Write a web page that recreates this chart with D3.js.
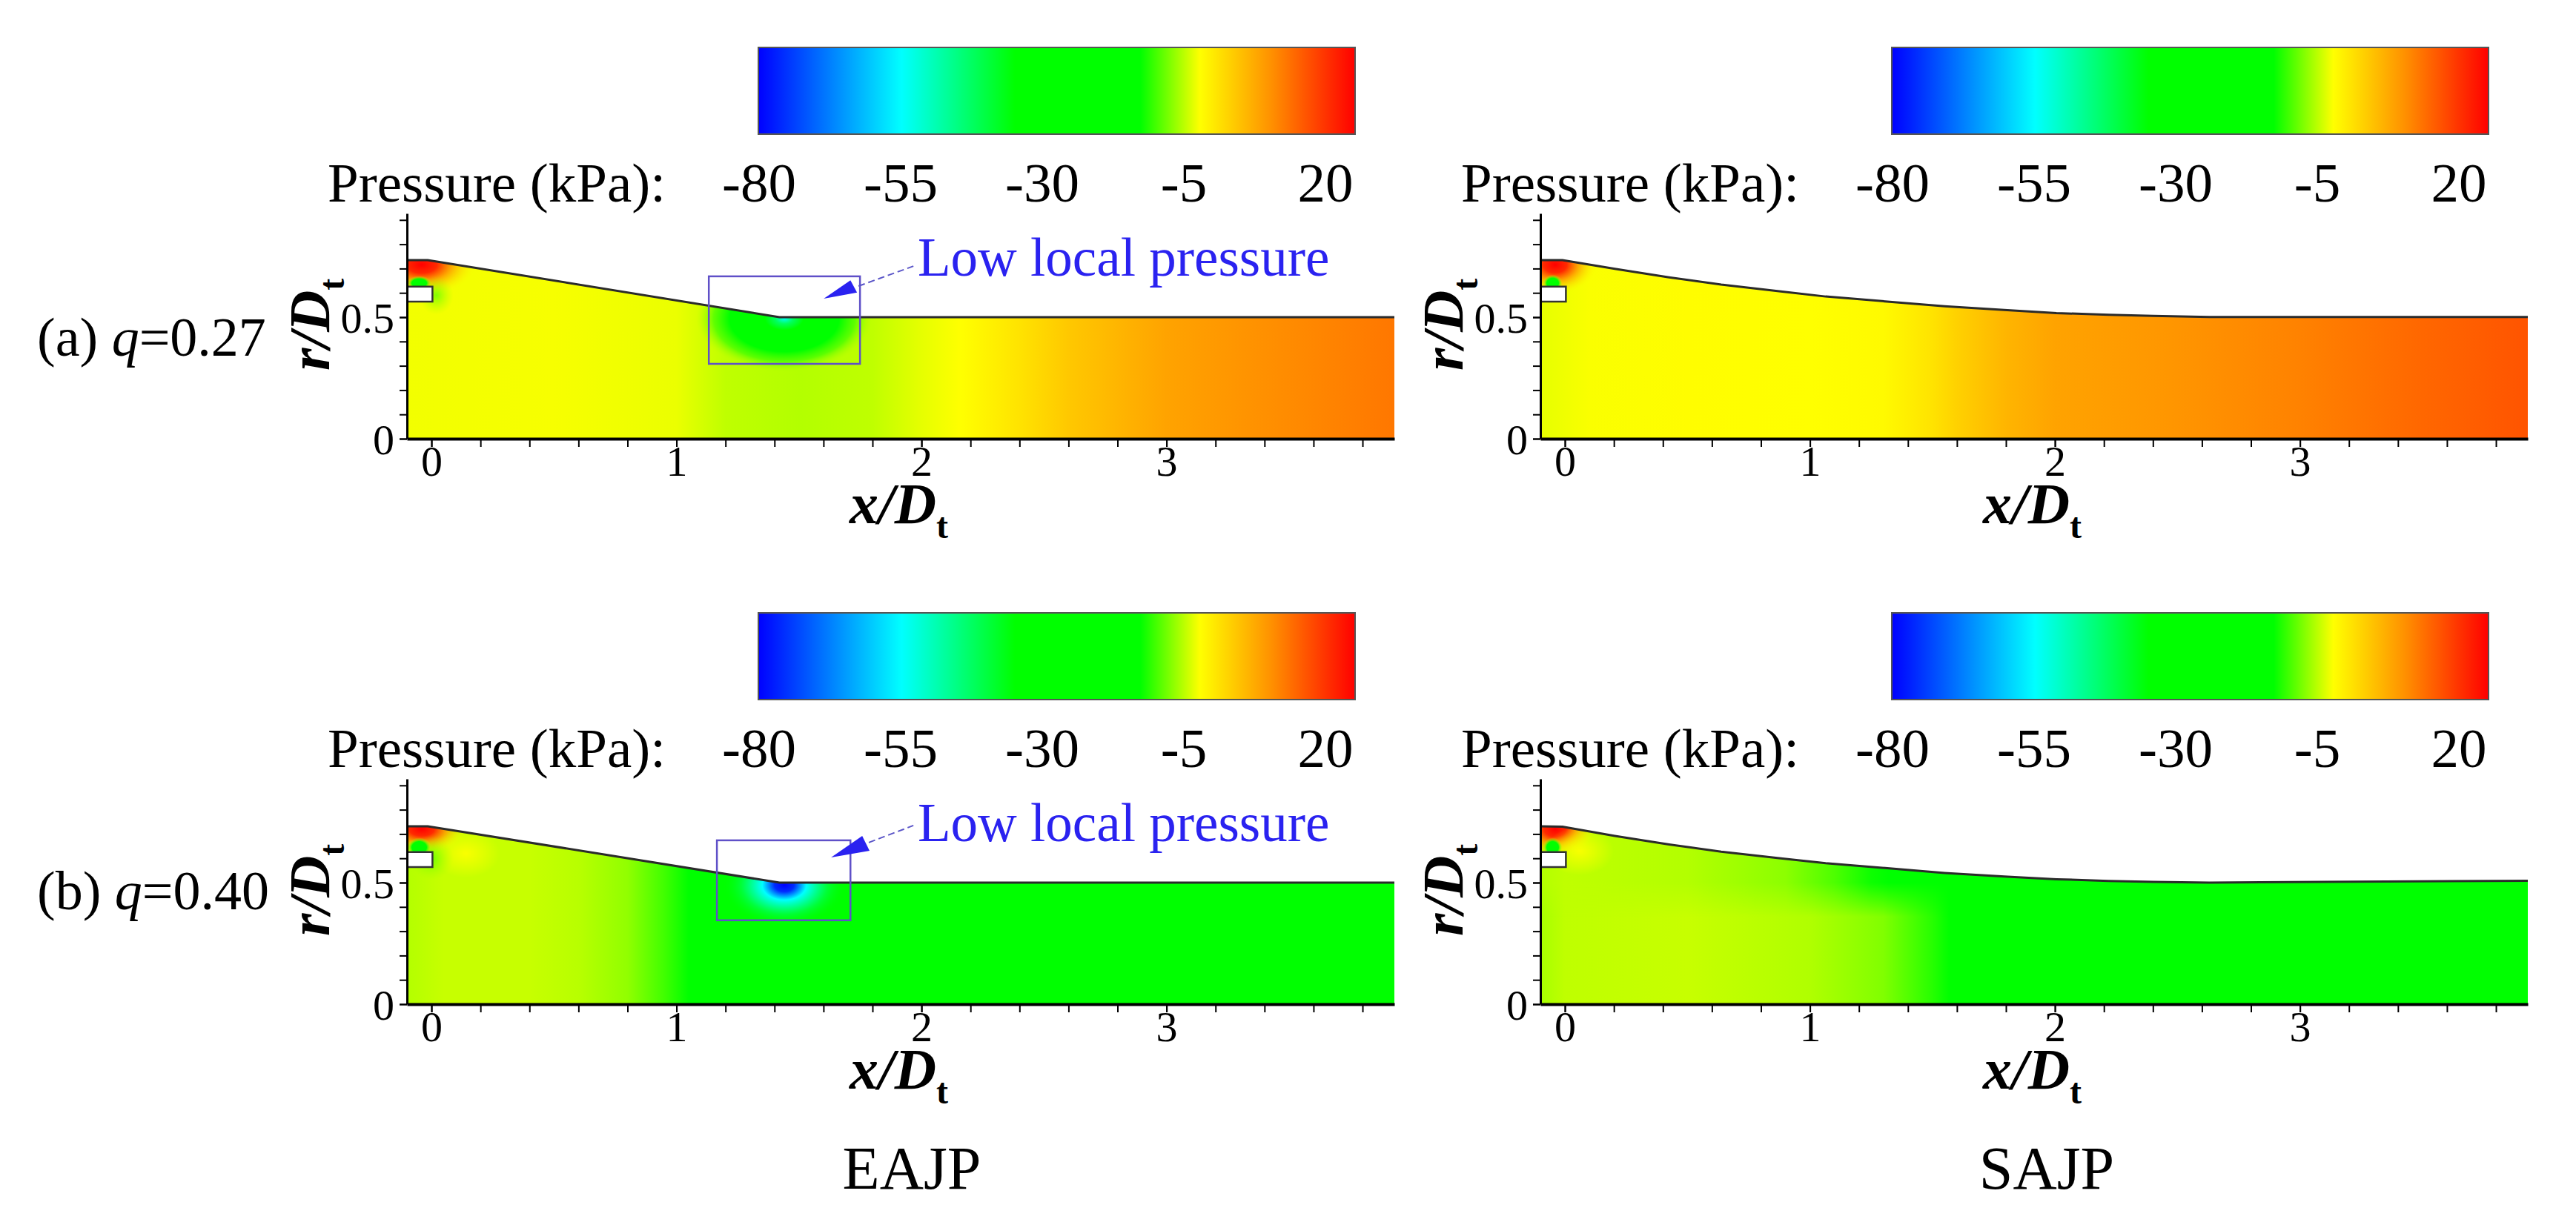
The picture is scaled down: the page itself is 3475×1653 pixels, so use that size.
<!DOCTYPE html>
<html>
<head>
<meta charset="utf-8">
<script src="https://cdn.jsdelivr.net/npm/d3@7"></script>
<style>
    html, body { margin: 0; background: #fff; }
    text { font-family: "Liberation Serif", serif; fill: #000; }
</style>
</head>
<body>
<script>
// Colour map (kPa)
const colorPressure = [-80, -56, -37, -16, -6, 6, 20];
const colorValues = ['#0000ff', '#00ffff', '#00ff00', '#00ff00', '#ffff00', '#ff9000', '#ff0000'];
const barLabels = ['-80', '-55', '-30', '-5', '20'];

// Tick values
const xMajor = [0, 1, 2, 3];
const xMinor = [-0.0001, 0.2, 0.4, 0.6, 0.8, 1, 1.2, 1.4, 1.6, 1.8, 2, 2.2, 2.4, 2.6, 2.8, 3, 3.2, 3.4, 3.6, 3.8];
const yMajor = [0, 0.5];
const yMinor = [0, 0.1, 0.2, 0.3, 0.4, 0.5, 0.6, 0.7, 0.8, 0.9];

// Wall contours, x/Dt and r/Dt
const eajpWallX = [-0.1, -0.015, 1.42, 3.93];
const eajpWallR = [0.735, 0.735, 0.5, 0.5];
const sajpWallX = [-0.1, -0.01, 0.204, 0.425, 0.638, 0.881, 1.064, 1.307, 1.55, 1.793, 2.006, 2.219, 2.401, 2.63, 3.93];
const sajpWallR = [0.735, 0.735, 0.699, 0.664, 0.634, 0.606, 0.585, 0.565, 0.545, 0.53, 0.517, 0.51, 0.505, 0.501, 0.501];
const sajpWallRb = [0.732, 0.73, 0.692, 0.657, 0.627, 0.6, 0.58, 0.56, 0.54, 0.525, 0.514, 0.507, 0.503, 0.5, 0.508];

// Centre body
const bodyX = [-0.1, 0.004, 0.004, -0.1];
const bodyR = [0.626, 0.626, 0.564, 0.564];

// Pressure along x (kPa), near the axis
const stationsA = [-0.1, 0.5, 1.0, 1.2, 1.5, 1.8, 2.0, 2.16, 2.4, 2.6, 3, 3.4, 3.93];
const pressureA = [-6.5, -6.3, -6.8, -8.5, -9, -8.5, -7, -6, -3, 0, 4, 6, 8.4];
const stationsB = [-0.1, 0.1, 0.5, 1.0, 1.3, 1.5, 1.6, 1.8, 2, 2.5, 3, 3.5, 3.93];
const pressureB = [-7, -6.2, -5.8, -6, -5.5, -3, -1, 2, 4, 5.5, 7.4, 10, 11.8];
const stationsC = [-0.1, 0.05, 0.4, 0.6, 0.8, 0.95, 1.05, 1.3, 3.93];
const pressureC = [-9, -8.2, -8.2, -8.8, -10.3, -13.5, -16, -20, -20];
const stationsD = [-0.1, 0, 0.5, 1.0, 1.3, 1.5, 1.57, 1.75, 3.93];
const pressureD = [-9.5, -8.5, -8.2, -9.1, -11, -14.5, -16.5, -19, -20];
// SAJP q=0.40 front bends upstream close to the wall
const stationsDUp = [-0.1, 0, 0.5, 0.9, 1.1, 1.25, 1.32, 3.93];
const pressureDUp = [-9, -8.5, -9, -10.5, -13, -15.5, -16.5, -20];

// Local blobs: offset, pressure, opacity
const hotStops = [[0, 20, 1], [0.28, 16, 1], [0.55, 5, 0.85], [1, -5, 0]];
const spotStops = [[0, -30, 1], [0.6, -22, 1], [1, -8, 0]];
const fringeStops = [[0, -14, 0.6], [1, -10, 0]];
const yellowStops = [[0, -6, 0.9], [1, -6, 0]];
const bowlStops = [[0, -55, 1], [0.1, -44, 1], [0.22, -32, 1], [0.62, -20, 1], [0.8, -14, 0.7], [1, -9, 0]];
const deepStops = [[0, -80, 1], [0.16, -76, 1], [0.36, -56, 1], [0.7, -42, 0.85], [1, -30, 0]];

// x, r, rx, ry
const nozzleBlobsA = [[-0.04, 0.716, 0.22, 0.125, hotStops], [0.02, 0.59, 0.07, 0.08, fringeStops], [-0.05, 0.64, 0.05, 0.03, spotStops]];
const nozzleBlobsC = [[-0.04, 0.72, 0.18, 0.1, hotStops], [0.14, 0.62, 0.14, 0.1, yellowStops], [0.0, 0.6, 0.09, 0.09, fringeStops], [-0.05, 0.645, 0.05, 0.04, spotStops]];
const nozzleBlobsB = [[-0.04, 0.716, 0.17, 0.12, hotStops], [-0.05, 0.64, 0.04, 0.035, spotStops]];
const nozzleBlobsD = [[-0.04, 0.72, 0.16, 0.11, hotStops], [0.06, 0.63, 0.14, 0.1, yellowStops], [-0.05, 0.645, 0.04, 0.04, spotStops]];
const throatBlobA = [[1.44, 0.495, 0.36, 0.22, bowlStops]];
const throatBlobC = [[1.44, 0.49, 0.25, 0.17, deepStops]];

// Annotations, x/Dt and r/Dt
const boxA = [1.132, 1.749, 0.308, 0.668];
const boxC = [1.165, 1.71, 0.345, 0.674];
const arrowHeadA = [[1.601, 0.576], [1.71, 0.652], [1.737, 0.601]];
const arrowTailA = [[1.743, 0.628], [1.967, 0.71]];
const arrowHeadC = [[1.631, 0.604], [1.758, 0.692], [1.788, 0.631]];
const arrowTailC = [[1.785, 0.665], [1.967, 0.735]];

// Layout
const colX = [549, 2078];
const rowBottom = [592, 1355];
const plotWidth = 1332;
const plotHeight = 304;
const barGap = 1529;

const panels = [
    { id: 'a1', col: 0, row: 0, wallX: eajpWallX, wallR: eajpWallR, stations: stationsA, pressure: pressureA, blobs: nozzleBlobsA.concat(throatBlobA), box: boxA, head: arrowHeadA, tail: arrowTailA },
    { id: 'a2', col: 1, row: 0, wallX: sajpWallX, wallR: sajpWallR, stations: stationsB, pressure: pressureB, blobs: nozzleBlobsB },
    { id: 'b1', col: 0, row: 1, wallX: eajpWallX, wallR: eajpWallR.map(d => d === 0.735 ? 0.732 : d), stations: stationsC, pressure: pressureC, blobs: nozzleBlobsC.concat(throatBlobC), box: boxC, head: arrowHeadC, tail: arrowTailC },
    { id: 'b2', col: 1, row: 1, wallX: sajpWallX, wallR: sajpWallRb, stations: stationsD, pressure: pressureD, upper: { stations: stationsDUp, pressure: pressureDUp }, blobs: nozzleBlobsD }
];

const color = d3.scaleLinear().domain(colorPressure).range(colorValues).clamp(true);
const blue = '#2a22f0';

const svg = d3.select('body').append('svg')
    .attr('width', 3475)
    .attr('height', 1653)
    .style('display', 'block');
const defs = svg.append('defs');

function fieldGradient(id, stations, pressure, x) {
    const [a, b] = x.domain();
    const grad = defs.append('linearGradient')
        .attr('id', id)
        .attr('gradientUnits', 'userSpaceOnUse')
        .attr('x1', x(a)).attr('x2', x(b)).attr('y1', 0).attr('y2', 0);
    grad.selectAll('stop').data(stations).join('stop')
        .attr('offset', d => (d - a) / (b - a))
        .attr('stop-color', (d, i) => color(pressure[i]));
}

// Colour bars and their labels
const barPressure = d3.scaleLinear().domain([-80, 20]).range([0, 1]);
const barGrad = defs.append('linearGradient').attr('id', 'barGrad');
barGrad.selectAll('stop').data(colorPressure).join('stop')
    .attr('offset', d => barPressure(d))
    .attr('stop-color', d => color(d));

panels.forEach(p => {
    const dx = p.col * barGap;
    const dy = rowBottom[p.row] - rowBottom[0];
    svg.append('rect')
        .attr('x', 1023 + dx).attr('y', 64 + dy)
        .attr('width', 805).attr('height', 117)
        .attr('fill', 'url(#barGrad)')
        .attr('stroke', '#555').attr('stroke-width', 2);
    svg.append('text')
        .attr('x', 442 + dx).attr('y', 272 + dy)
        .attr('font-size', 75)
        .text('Pressure (kPa):');
    const labelX = d3.scalePoint().domain(barLabels).range([1024 + dx, 1788 + dx]);
    svg.append('g').selectAll('text').data(barLabels).join('text')
        .attr('x', d => labelX(d)).attr('y', 272 + dy)
        .attr('font-size', 75)
        .attr('text-anchor', 'middle')
        .text(d => d);
});

// Panels
panels.forEach(p => {
    const x = d3.scaleLinear().domain([-0.1, 3.93]).range([colX[p.col], colX[p.col] + plotWidth]);
    const y = d3.scaleLinear().domain([0, plotHeight / 328]).range([rowBottom[p.row], rowBottom[p.row] - plotHeight]);
    const g = svg.append('g');

    const wall = p.wallX.map((d, i) => [d, p.wallR[i]]);
    const line = d3.line().x(d => x(d[0])).y(d => y(d[1]));

    defs.append('clipPath').attr('id', 'clip-' + p.id)
        .append('path')
        .attr('d', line([[-0.1, 0], ...wall, [3.93, 0]]) + 'Z');

    const field = g.append('g').attr('clip-path', `url(#clip-${p.id})`);
    const fieldRect = s => s.append('rect')
        .attr('x', x(-0.1)).attr('y', y(0.8))
        .attr('width', plotWidth).attr('height', y(0) - y(0.8));

    fieldGradient('field-' + p.id, p.stations, p.pressure, x);
    fieldRect(field).attr('fill', `url(#field-${p.id})`);

    if (p.upper) {
        fieldGradient('upper-' + p.id, p.upper.stations, p.upper.pressure, x);
        const fade = defs.append('linearGradient').attr('id', 'fade-' + p.id)
            .attr('gradientUnits', 'userSpaceOnUse')
            .attr('x1', 0).attr('x2', 0).attr('y1', y(0.5)).attr('y2', y(0.36));
        fade.append('stop').attr('offset', 0).attr('stop-color', '#fff');
        fade.append('stop').attr('offset', 1).attr('stop-color', '#000');
        const mask = defs.append('mask').attr('id', 'mask-' + p.id)
            .attr('maskUnits', 'userSpaceOnUse')
            .attr('x', 0).attr('y', 0).attr('width', 3475).attr('height', 1653);
        mask.append('rect').attr('width', 3475).attr('height', 1653).attr('fill', `url(#fade-${p.id})`);
        fieldRect(field).attr('fill', `url(#upper-${p.id})`).attr('mask', `url(#mask-${p.id})`);
    }

    p.blobs.forEach((b, i) => {
        const grad = defs.append('radialGradient').attr('id', `blob-${p.id}-${i}`);
        grad.selectAll('stop').data(b[4]).join('stop')
            .attr('offset', d => d[0])
            .attr('stop-color', d => color(d[1]))
            .attr('stop-opacity', d => d[2]);
        field.append('ellipse')
            .attr('cx', x(b[0])).attr('cy', y(b[1]))
            .attr('rx', x(b[2]) - x(0)).attr('ry', y(0) - y(b[3]))
            .attr('fill', `url(#blob-${p.id}-${i})`);
    });

    // Centre body
    const body = bodyX.map((d, i) => [d, bodyR[i]]);
    g.append('path')
        .attr('d', line(body))
        .attr('fill', '#fff')
        .attr('stroke', '#333')
        .attr('stroke-width', 2.5);

    // Wall
    g.append('path')
        .attr('d', line(wall))
        .attr('fill', 'none')
        .attr('stroke', '#2b2b2b')
        .attr('stroke-width', 3);

    // Axes
    const xAxis = g.append('g')
        .attr('transform', `translate(0,${y(0)})`)
        .call(d3.axisBottom(x).tickValues(xMinor).tickSize(11).tickSizeOuter(0).tickFormat(''));
    xAxis.select('.domain').attr('stroke-width', 4);
    xAxis.selectAll('.tick line').attr('stroke-width', 2);
    const xLabels = g.append('g')
        .attr('transform', `translate(0,${y(0)})`)
        .call(d3.axisBottom(x).tickValues(xMajor).tickSize(11).tickSizeOuter(0).tickFormat(d3.format('d')));
    xLabels.select('.domain').remove();
    xLabels.selectAll('.tick line').attr('stroke-width', 2);
    xLabels.selectAll('text')
        .attr('y', 50).attr('dy', 0)
        .attr('font-size', 58);
    xLabels.attr('font-family', null).attr('font-size', null);

    const yAxis = g.append('g')
        .attr('transform', `translate(${x(-0.1)},0)`)
        .call(d3.axisLeft(y).tickValues(yMinor).tickSize(10).tickSizeOuter(0).tickFormat(''));
    yAxis.select('.domain').attr('stroke-width', 3);
    yAxis.selectAll('.tick line').attr('stroke-width', 2);
    const yLabels = g.append('g')
        .attr('transform', `translate(${x(-0.1)},0)`)
        .call(d3.axisLeft(y).tickValues(yMajor).tickSize(10).tickSizeOuter(0).tickFormat(d => d));
    yLabels.select('.domain').remove();
    yLabels.selectAll('.tick line').attr('stroke-width', 2);
    yLabels.selectAll('text')
        .attr('x', -17).attr('dy', 20)
        .attr('font-size', 58);
    yLabels.attr('font-family', null).attr('font-size', null);

    // Axis titles
    const xTitle = g.append('text')
        .attr('x', x(-0.1) + 597)
        .attr('y', y(0) + 114)
        .attr('font-size', 78)
        .attr('font-weight', 'bold')
        .attr('font-style', 'italic');
    xTitle.append('tspan').text('x/D');
    xTitle.append('tspan').attr('dy', 20).attr('font-size', 48).attr('font-style', 'normal').text('t');

    const yTitle = g.append('text')
        .attr('transform', `translate(${x(-0.1) - 105},${y(0) - 92}) rotate(-90)`)
        .attr('font-size', 78)
        .attr('font-weight', 'bold')
        .attr('font-style', 'italic');
    yTitle.append('tspan').text('r/D');
    yTitle.append('tspan').attr('dy', 20).attr('font-size', 48).attr('font-style', 'normal').text('t');

    // Low pressure note
    if (p.box) {
        g.append('rect')
            .attr('x', x(p.box[0])).attr('y', y(p.box[3]))
            .attr('width', x(p.box[1]) - x(p.box[0]))
            .attr('height', y(p.box[2]) - y(p.box[3]))
            .attr('fill', 'none')
            .attr('stroke', '#5f50c8')
            .attr('stroke-width', 2.5);
        g.append('path')
            .attr('d', line(p.tail))
            .attr('fill', 'none')
            .attr('stroke', '#5a55c8')
            .attr('stroke-width', 2)
            .attr('stroke-dasharray', '9 5');
        g.append('path')
            .attr('d', line(p.head) + 'Z')
            .attr('fill', blue);
        g.append('text')
            .attr('x', 1238)
            .attr('y', y(0) - 220)
            .attr('font-size', 73)
            .style('fill', blue)
            .text('Low local pressure');
    }
});

// Row labels
const rowLabels = [['(a) ', '=0.27', 480], ['(b) ', '=0.40', 1227]];
rowLabels.forEach(d => {
    const t = svg.append('text')
        .attr('x', 50).attr('y', d[2])
        .attr('font-size', 74)
        .style('white-space', 'pre');
    t.append('tspan').text(d[0]);
    t.append('tspan').attr('font-style', 'italic').text('q');
    t.append('tspan').text(d[1]);
});

// Column labels
const colLabels = ['EAJP', 'SAJP'];
const colCentres = [1230, 2761];
svg.append('g').selectAll('text').data(colLabels).join('text')
    .attr('x', (d, i) => colCentres[i])
    .attr('y', 1604)
    .attr('font-size', 82)
    .attr('text-anchor', 'middle')
    .text(d => d);
</script>
</body>
</html>
